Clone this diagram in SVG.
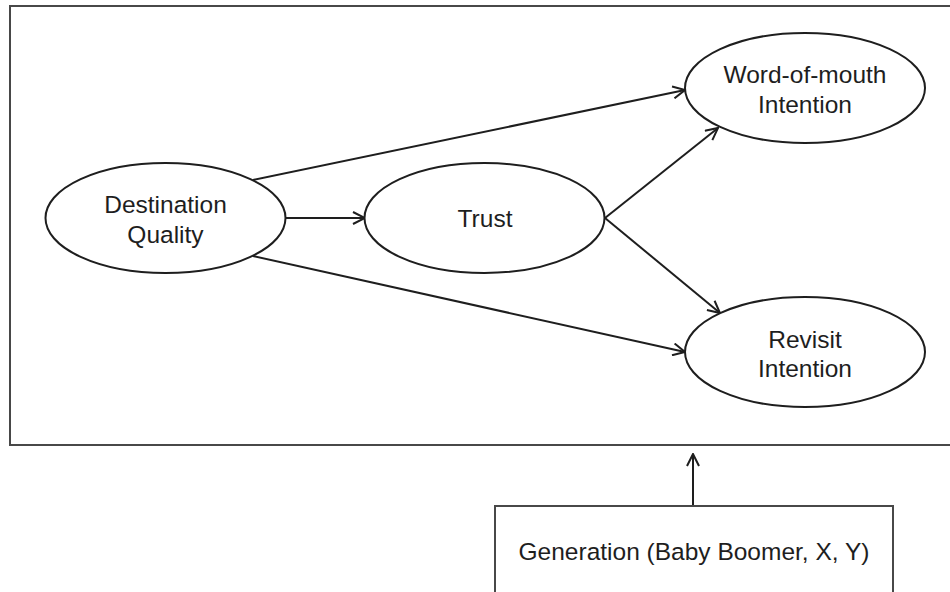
<svg xmlns="http://www.w3.org/2000/svg" width="950" height="592" viewBox="0 0 950 592">
<style>
  .frame{fill:none;stroke:#484848;stroke-width:2}
  .node{fill:#fff;stroke:#1e1e1e;stroke-width:2}
  .lbl{font-family:"Liberation Sans",Arial,sans-serif;font-size:24.5px;fill:#1e1e1e;text-anchor:middle}
  .edge{fill:none;stroke:#1e1e1e;stroke-width:2}
</style>
<defs>
  <marker id="arr" viewBox="0 0 14 14" refX="13" refY="7" markerWidth="14" markerHeight="14" markerUnits="userSpaceOnUse" orient="auto">
    <path d="M1,1 L13,7 L1,13" fill="none" stroke="#1e1e1e" stroke-width="2"/>
  </marker>
</defs>
<rect width="950" height="592" fill="#fff"/>
<rect class="frame" x="10" y="6" width="960" height="439"/>
<g id="connectors">
  <line class="edge" x1="286" y1="218" x2="365" y2="218" marker-end="url(#arr)"/>
  <line class="edge" x1="253" y1="180" x2="685" y2="90" marker-end="url(#arr)"/>
  <line class="edge" x1="253" y1="256" x2="685" y2="352" marker-end="url(#arr)"/>
  <line class="edge" x1="605" y1="218" x2="718" y2="128" marker-end="url(#arr)"/>
  <line class="edge" x1="605" y1="218" x2="720" y2="313" marker-end="url(#arr)"/>
  <line class="edge" x1="693" y1="506" x2="693" y2="454" marker-end="url(#arr)"/>
</g>
<g id="destination-quality">
  <ellipse class="node" cx="165.5" cy="218" rx="120" ry="55"/>
  <text class="lbl" x="165.5" y="213">Destination</text>
  <text class="lbl" x="165.5" y="243">Quality</text>
</g>
<g id="trust">
  <ellipse class="node" cx="484.5" cy="218" rx="120" ry="55"/>
  <text class="lbl" x="485" y="226.5">Trust</text>
</g>
<g id="word-of-mouth">
  <ellipse class="node" cx="805" cy="88" rx="120" ry="55"/>
  <text class="lbl" x="805" y="83">Word-of-mouth</text>
  <text class="lbl" x="805" y="113">Intention</text>
</g>
<g id="revisit">
  <ellipse class="node" cx="805" cy="352" rx="120" ry="55"/>
  <text class="lbl" x="805" y="348">Revisit</text>
  <text class="lbl" x="805" y="377">Intention</text>
</g>
<g id="generation">
  <rect class="frame" x="495" y="506" width="398" height="110" fill="#fff"/>
  <text class="lbl" x="694" y="560">Generation (Baby Boomer, X, Y)</text>
</g>
</svg>
